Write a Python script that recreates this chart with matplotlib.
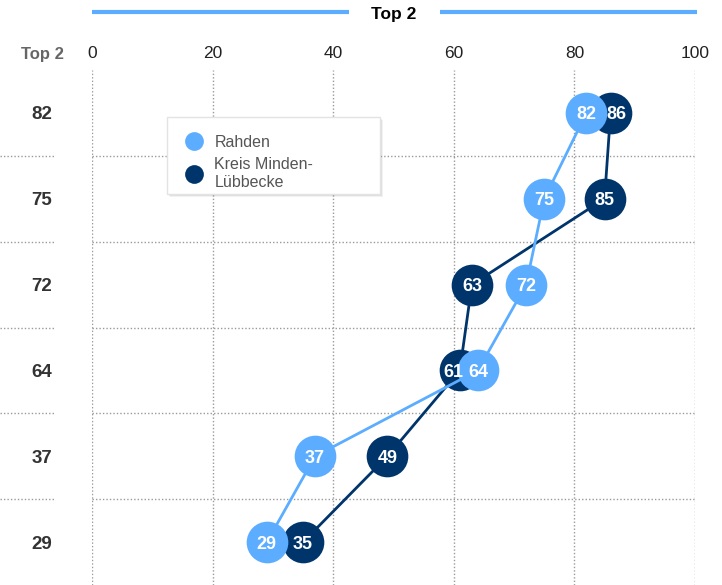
import matplotlib
matplotlib.use("Agg")
import matplotlib.pyplot as plt
from matplotlib.lines import Line2D
from matplotlib.patches import Rectangle
import matplotlib.transforms as mtrans

plt.rcParams['font.family'] = ['Liberation Sans', 'DejaVu Sans']

# ---- data ----
row_labels = ["82", "75", "72", "64", "37", "29"]
rahden = [82, 75, 72, 64, 37, 29]
kreis = [86, 85, 63, 61, 49, 35]
series_names = ["Rahden", "Kreis Minden-\nLübbecke"]
xticks = [0, 20, 40, 60, 80, 100]
title = "Top 2"
header = "Top 2"

light = "#5cadff"
dark = "#00356b"
grid_c = "#9a9a9a"

W, H = 722, 585
fig = plt.figure(figsize=(W / 100, H / 100), dpi=100)
ax = fig.add_axes([92 / W, 0, 603 / W, 515 / H])

n = len(row_labels)
ys = list(range(n))

ax.set_xlim(0, 100)
ax.set_ylim(n - 0.5, -0.5)
for s in ax.spines.values():
    s.set_visible(False)

# grid
for xv in xticks:
    ax.axvline(xv, color=grid_c, lw=1, ls=(0, (1, 1.5)), zorder=0)
for i in range(n - 1):
    ax.axhline(i + 0.5, color=grid_c, lw=1, ls=(0, (1, 1.5)), zorder=0)

# left separators + row labels (x in figure coords, y in data)
bt = mtrans.blended_transform_factory(fig.transFigure, ax.transData)
for i in range(n - 1):
    fig.add_artist(Line2D([0, 55 / W], [i + 0.5, i + 0.5], transform=bt,
                          color=grid_c, lw=1, ls=(0, (1, 1.5))))
for i, lab in enumerate(row_labels):
    fig.text(42 / W, ys[i], lab, transform=bt, ha='center',
             va='center_baseline', fontsize=13.5, fontweight='bold',
             color="#333333")

# ticks on top
ax.xaxis.tick_top()
ax.set_xticks(xticks)
ax.set_xticklabels([str(v) for v in xticks], fontsize=12.5, color="#222222")
ax.tick_params(axis='x', length=0, pad=6.5)
ax.set_yticks([])

fig.text(42 / W, 1 - 53 / H, header, ha='center', va='center_baseline',
         fontsize=12, fontweight='bold', color="#666666")

# series: dark series below, light series on top
ax.plot(kreis, ys, color=dark, lw=2, zorder=2)
ax.plot(kreis, ys, 'o', ls='none', ms=30, color=dark, mec='none', zorder=3)
ax.plot(rahden, ys, color=light, lw=2, zorder=4)
ax.plot(rahden, ys, 'o', ls='none', ms=30, color=light, mec='none', zorder=5)

for i in range(n):
    ax.text(rahden[i], ys[i], str(rahden[i]), ha='center', va='center_baseline',
            color='white', fontsize=13, fontweight='bold', zorder=20)
    # labels of heavily overlapping circles are nudged apart
    dx = 0
    if abs(kreis[i] - rahden[i]) < 5:
        dx = 4.5 if kreis[i] > rahden[i] else -4.5
    ax.annotate(str(kreis[i]), (kreis[i], ys[i]), xytext=(dx, 0),
                textcoords='offset points', ha='center', va='center_baseline',
                color='white', fontsize=13, fontweight='bold', zorder=20)

# legend box (manual frame with soft shadow)
for k, a in [(3, 0.05), (2, 0.07), (1, 0.08)]:
    ax.add_patch(Rectangle(((167 + k) / W, 1 - (194 + k) / H), 213 / W, 77 / H,
                           transform=fig.transFigure, facecolor='black',
                           edgecolor='none', alpha=a, zorder=24, clip_on=False))
ax.add_patch(Rectangle((167 / W, 1 - 194 / H), 213 / W, 77 / H,
                       transform=fig.transFigure, facecolor='white',
                       edgecolor='#e3e3e3', lw=1, zorder=25, clip_on=False))

handles = [Line2D([], [], marker='o', ls='none', ms=13.5, color=light, mec='none'),
           Line2D([], [], marker='o', ls='none', ms=13.5, color=dark, mec='none')]
leg = ax.legend(handles, series_names, loc='upper left',
                bbox_to_anchor=(176 / W, 1 - 135 / H),
                bbox_transform=fig.transFigure,
                fontsize=11.5, labelcolor="#555555", frameon=False,
                borderpad=0, handletextpad=0.2, labelspacing=0.45,
                handlelength=2.2, borderaxespad=0)
leg.set_zorder(30)

# title with blue lines
ty = 1 - 12 / H
fig.add_artist(Line2D([92 / W, 349 / W], [ty, ty], transform=fig.transFigure,
                      color=light, lw=3, solid_capstyle='butt'))
fig.add_artist(Line2D([440 / W, 697 / W], [ty, ty], transform=fig.transFigure,
                      color=light, lw=3, solid_capstyle='butt'))
fig.text(394 / W, 1 - 13 / H, title, ha='center', va='center_baseline',
         fontsize=12.5, fontweight='bold', color='black')

fig.savefig("out.png", dpi=100)
